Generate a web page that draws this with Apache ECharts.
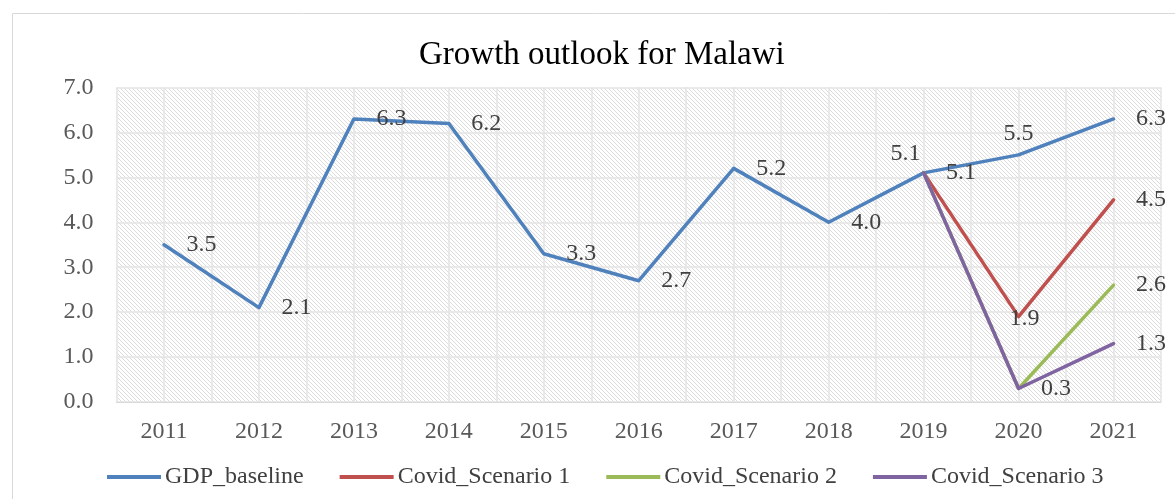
<!DOCTYPE html>
<html>
<head>
<meta charset="utf-8">
<script src="https://cdn.jsdelivr.net/npm/echarts@6/dist/echarts.min.js"></script>
<style>
html,body{margin:0;padding:0;background:#fff;}
#chart{width:1175px;height:499px;}
</style>
</head>
<body>
<div id="chart"></div>
<script>
var years = ['2011','2012','2013','2014','2015','2016','2017','2018','2019','2020','2021'];
var gdpBaseline = [3.5, 2.1, 6.3, 6.2, 3.3, 2.7, 5.2, 4.0, 5.1, 5.5, 6.3];
var covid1 = [null, null, null, null, null, null, null, null, 5.1, 1.9, 4.5];
var covid2 = [null, null, null, null, null, null, null, null, 5.1, 0.3, 2.6];
var covid3 = [null, null, null, null, null, null, null, null, 5.1, 0.3, 1.3];
var seriesNames = ['GDP_baseline', 'Covid_Scenario 1', 'Covid_Scenario 2', 'Covid_Scenario 3'];
var yTicks = [0, 1, 2, 3, 4, 5, 6, 7];

var FONT = '"Liberation Serif", "DejaVu Serif", serif';

// hatch pattern (pixel diagonals)
var P = 4;
var pc = document.createElement('canvas');
pc.width = P; pc.height = P;
var pctx = pc.getContext('2d');
pctx.fillStyle = '#ffffff';
pctx.fillRect(0, 0, P, P);
pctx.fillStyle = '#dcdcdc';
for (var i = 0; i < P; i++) { pctx.fillRect(i, i, 1, 1); }

var labelBase = {show: true, fontSize: 24, color: '#404040', fontFamily: FONT,
  formatter: function (p) { return Number(p.value).toFixed(1); }};

function mk(values, labels) {
  return values.map(function (v, i) {
    if (v === null) return null;
    var l = labels[i];
    var item = {value: v};
    if (l === 'R') item.label = Object.assign({}, labelBase, {position: 'right', distance: 22});
    else if (l === 'T') item.label = Object.assign({}, labelBase, {position: 'top', distance: 9});
    else if (l === 'TL') item.label = Object.assign({}, labelBase, {position: 'top', distance: 7, offset: [-18, 0]});
    else if (l === 'C') item.label = Object.assign({}, labelBase, {position: 'inside', offset: [6, 2]});
    else item.label = {show: false};
    return item;
  });
}

var colors = ['#4F81BD', '#C0504D', '#9BBB59', '#8064A2'];

function lineSeries(name, data, idx) {
  return {
    name: name,
    type: 'line',
    xAxisIndex: 0,
    yAxisIndex: 0,
    data: data,
    symbol: 'circle',
    symbolSize: 1,
    showSymbol: true,
    connectNulls: false,
    lineStyle: {width: 3.5, color: colors[idx], cap: 'round', join: 'round'},
    itemStyle: {color: colors[idx]},
    z: 2 + idx,
    animation: false
  };
}

var chart = echarts.init(document.getElementById('chart'), null, {renderer: 'canvas'});
chart.setOption({
  animation: false,
  color: colors,
  title: {
    text: 'Growth outlook for Malawi',
    left: 414,
    top: 34,
    textStyle: {fontFamily: FONT, fontSize: 33, fontWeight: 'normal', color: '#000000'}
  },
  graphic: [{
    type: 'rect',
    shape: {x: 12.5, y: 13.5, width: 1200, height: 600},
    style: {fill: null, stroke: '#d9d9d9', lineWidth: 1},
    silent: true, z: -10
  }],
  legend: {
    data: seriesNames,
    top: 460,
    left: 102,
    itemWidth: 54,
    itemHeight: 4,
    itemGap: 36,
    icon: 'rect',
    textStyle: {fontFamily: FONT, fontSize: 24, color: '#404040', padding: [0, 0, 0, -1]}
  },
  grid: {
    left: 116.5, right: 14, top: 87.5, bottom: 97,
    show: true,
    borderWidth: 0,
    backgroundColor: {image: pc, repeat: 'repeat'}
  },
  xAxis: [{
    type: 'category',
    data: years,
    boundaryGap: true,
    axisLine: {show: true, lineStyle: {color: '#d9d9d9', width: 1}},
    axisTick: {show: false},
    splitLine: {show: false},
    axisLabel: {fontFamily: FONT, fontSize: 24, color: '#595959', margin: 18}
  }, {
    type: 'value',
    min: 0, max: 22, interval: 1,
    position: 'bottom',
    axisLine: {show: false},
    axisTick: {show: false},
    axisLabel: {show: false},
    splitLine: {show: true, lineStyle: {color: '#e4e4e4', width: 1.5}}
  }],
  yAxis: {
    type: 'value',
    min: yTicks[0], max: yTicks[yTicks.length - 1], interval: 1,
    axisLine: {show: false},
    axisTick: {show: false},
    splitLine: {show: true, lineStyle: {color: '#e4e4e4', width: 1.5}},
    axisLabel: {fontFamily: FONT, fontSize: 24, color: '#595959', margin: 23,
      formatter: function (v) { return v.toFixed(1); }}
  },
  series: [
    lineSeries(seriesNames[0], mk(gdpBaseline, ['R','R','R','R','R','R','R','R','R','T','R']), 0),
    lineSeries(seriesNames[1], mk(covid1, ['','','','','','','','','TL','C','R']), 1),
    lineSeries(seriesNames[2], mk(covid2, ['','','','','','','','','','','R']), 2),
    lineSeries(seriesNames[3], mk(covid3, ['','','','','','','','','','R','R']), 3)
  ]
});
</script>
</body>
</html>
